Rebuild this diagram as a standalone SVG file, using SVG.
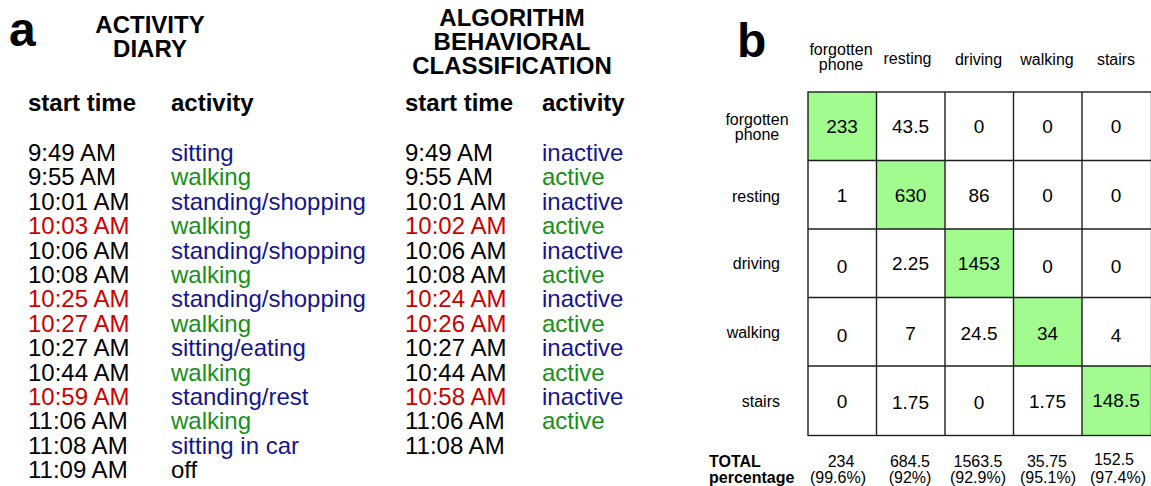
<svg xmlns="http://www.w3.org/2000/svg" width="1151" height="486" viewBox="0 0 1151 486">
<style>
text{font-family:"Liberation Sans",Arial,Helvetica,sans-serif;fill:#000}
.big{font-size:48px;font-weight:bold}
.ttl{font-size:24px;font-weight:bold;text-anchor:middle}
.hd{font-size:24px;font-weight:bold}
.r{font-size:24px}
.k{fill:#000}.red{fill:#cc0000}.blu{fill:#15158f}.grn{fill:#17901a}
.lab{font-size:16px}
.c{font-size:19px;text-anchor:middle}
.tot{font-size:16px;text-anchor:middle}
.g{fill:#a1fb8f}
.grid{stroke:#1e1e1e;stroke-width:1.4;fill:none}
</style>
<rect width="1151" height="486" fill="#fff"/>
<g id="panel-a">
<text class="big" x="9" y="46">a</text>
<g id="diary-title"><text class="ttl" x="150" y="33">ACTIVITY</text><text class="ttl" x="150" y="57">DIARY</text></g>
<g id="algo-title"><text class="ttl" x="512" y="26">ALGORITHM</text><text class="ttl" x="512" y="50">BEHAVIORAL</text><text class="ttl" x="512" y="74">CLASSIFICATION</text></g>
<g id="headers"><text class="hd" x="28" y="111">start time</text><text class="hd" x="171" y="111">activity</text><text class="hd" x="405" y="111">start time</text><text class="hd" x="542" y="111">activity</text></g>
<g id="diary" class="r">
<text class="r k" x="28" y="161">9:49 AM</text><text class="r blu" x="171" y="161">sitting</text>
<text class="r k" x="28" y="185.4">9:55 AM</text><text class="r grn" x="171" y="185.4">walking</text>
<text class="r k" x="28" y="209.8">10:01 AM</text><text class="r blu" x="171" y="209.8">standing/shopping</text>
<text class="r red" x="28" y="234.2">10:03 AM</text><text class="r grn" x="171" y="234.2">walking</text>
<text class="r k" x="28" y="258.6">10:06 AM</text><text class="r blu" x="171" y="258.6">standing/shopping</text>
<text class="r k" x="28" y="283">10:08 AM</text><text class="r grn" x="171" y="283">walking</text>
<text class="r red" x="28" y="307.4">10:25 AM</text><text class="r blu" x="171" y="307.4">standing/shopping</text>
<text class="r red" x="28" y="331.8">10:27 AM</text><text class="r grn" x="171" y="331.8">walking</text>
<text class="r k" x="28" y="356.2">10:27 AM</text><text class="r blu" x="171" y="356.2">sitting/eating</text>
<text class="r k" x="28" y="380.6">10:44 AM</text><text class="r grn" x="171" y="380.6">walking</text>
<text class="r red" x="28" y="405">10:59 AM</text><text class="r blu" x="171" y="405">standing/rest</text>
<text class="r k" x="28" y="429.4">11:06 AM</text><text class="r grn" x="171" y="429.4">walking</text>
<text class="r k" x="28" y="453.8">11:08 AM</text><text class="r blu" x="171" y="453.8">sitting in car</text>
<text class="r k" x="28" y="478.2">11:09 AM</text><text class="r k" x="171" y="478.2">off</text>
</g>
<g id="algorithm">
<text class="r k" x="405" y="161">9:49 AM</text><text class="r blu" x="542" y="161">inactive</text>
<text class="r k" x="405" y="185.4">9:55 AM</text><text class="r grn" x="542" y="185.4">active</text>
<text class="r k" x="405" y="209.8">10:01 AM</text><text class="r blu" x="542" y="209.8">inactive</text>
<text class="r red" x="405" y="234.2">10:02 AM</text><text class="r grn" x="542" y="234.2">active</text>
<text class="r k" x="405" y="258.6">10:06 AM</text><text class="r blu" x="542" y="258.6">inactive</text>
<text class="r k" x="405" y="283">10:08 AM</text><text class="r grn" x="542" y="283">active</text>
<text class="r red" x="405" y="307.4">10:24 AM</text><text class="r blu" x="542" y="307.4">inactive</text>
<text class="r red" x="405" y="331.8">10:26 AM</text><text class="r grn" x="542" y="331.8">active</text>
<text class="r k" x="405" y="356.2">10:27 AM</text><text class="r blu" x="542" y="356.2">inactive</text>
<text class="r k" x="405" y="380.6">10:44 AM</text><text class="r grn" x="542" y="380.6">active</text>
<text class="r red" x="405" y="405">10:58 AM</text><text class="r blu" x="542" y="405">inactive</text>
<text class="r k" x="405" y="429.4">11:06 AM</text><text class="r grn" x="542" y="429.4">active</text>
<text class="r k" x="405" y="453.8">11:08 AM</text>
</g>
</g>
<g id="panel-b">
<text class="big" x="737" y="57">b</text>
<g id="col-labels" class="lab">
<text class="lab" x="841" y="54.5" text-anchor="middle">forgotten</text><text class="lab" x="841" y="70" text-anchor="middle">phone</text>
<text class="lab" x="907.5" y="63.5" text-anchor="middle">resting</text>
<text class="lab" x="978.5" y="64.5" text-anchor="middle">driving</text>
<text class="lab" x="1047" y="64.5" text-anchor="middle">walking</text>
<text class="lab" x="1116" y="64.5" text-anchor="middle">stairs</text>
</g>
<g id="row-labels">
<text class="lab" x="757" y="124.5" text-anchor="middle">forgotten</text><text class="lab" x="757" y="140" text-anchor="middle">phone</text>
<text class="lab" x="780" y="201.5" text-anchor="end">resting</text>
<text class="lab" x="780" y="268.5" text-anchor="end">driving</text>
<text class="lab" x="780" y="338" text-anchor="end">walking</text>
<text class="lab" x="780" y="407" text-anchor="end">stairs</text>
</g>
<g id="diagonal">
<rect class="g" x="808" y="92" width="68.5" height="68.5"/>
<rect class="g" x="876.5" y="160.5" width="68.5" height="68.5"/>
<rect class="g" x="945" y="229" width="68.5" height="68.5"/>
<rect class="g" x="1013.5" y="297.5" width="68.5" height="68.5"/>
<rect class="g" x="1082" y="366" width="69" height="69.5"/>
</g>
<g id="grid" class="grid">
<rect x="808" y="92" width="343.5" height="343.5"/>
<path d="M876.5 92V435.5M945 92V435.5M1013.5 92V435.5M1082 92V435.5M808 160.5H1151M808 229H1151M808 297.5H1151M808 366H1151"/>
</g>
<g id="cells">
<text class="c" x="842" y="133">233</text><text class="c" x="910.5" y="133">43.5</text><text class="c" x="979" y="133">0</text><text class="c" x="1047.5" y="133">0</text><text class="c" x="1116" y="133">0</text>
<text class="c" x="842" y="202">1</text><text class="c" x="910.5" y="202">630</text><text class="c" x="979" y="202">86</text><text class="c" x="1047.5" y="202">0</text><text class="c" x="1116" y="202">0</text>
<text class="c" x="842" y="273">0</text><text class="c" x="910.5" y="270">2.25</text><text class="c" x="979" y="270">1453</text><text class="c" x="1047.5" y="273">0</text><text class="c" x="1116" y="273">0</text>
<text class="c" x="842" y="342">0</text><text class="c" x="910.5" y="340">7</text><text class="c" x="979" y="340">24.5</text><text class="c" x="1047.5" y="340">34</text><text class="c" x="1116" y="342">4</text>
<text class="c" x="842" y="408">0</text><text class="c" x="910.5" y="409">1.75</text><text class="c" x="979" y="409">0</text><text class="c" x="1047.5" y="408">1.75</text><text class="c" x="1116" y="407">148.5</text>
</g>
<g id="totals">
<text x="709" y="467" style="font-size:16px;font-weight:bold">TOTAL</text>
<text x="709" y="483" style="font-size:16px;font-weight:bold">percentage</text>
<text class="tot" x="841" y="467">234</text><text class="tot" x="838" y="483">(99.6%)</text>
<text class="tot" x="910" y="467">684.5</text><text class="tot" x="910" y="483">(92%)</text>
<text class="tot" x="978" y="467">1563.5</text><text class="tot" x="978" y="483">(92.9%)</text>
<text class="tot" x="1047" y="467">35.75</text><text class="tot" x="1048" y="483">(95.1%)</text>
<text class="tot" x="1114" y="465">152.5</text><text class="tot" x="1118" y="483">(97.4%)</text>
</g>
</g>
</svg>
